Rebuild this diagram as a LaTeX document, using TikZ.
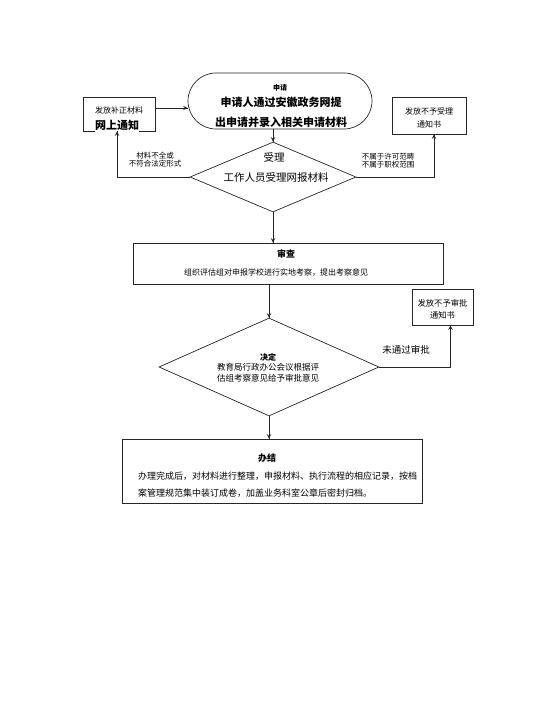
\documentclass[tikz,border=0pt]{standalone}
\usepackage{fontspec}
\setmainfont{Noto Sans CJK SC}
\usetikzlibrary{shapes.geometric,decorations.markings}

\begin{document}
\begin{tikzpicture}[x=1pt,y=-1pt]
\tikzset{
arr/.style={postaction=decorate,
decoration={markings,
mark=at position 1 with {\arrow[scale=1.2]{#1}}
}},
line/.style={draw=black!85,line width=0.7pt},
box/.style={line,inner sep=0pt},
dia/.style={line,diamond,inner sep=0pt},
txt/.style={inner sep=0pt,font=\fontsize{#1}{#1}\selectfont},
btxt/.style={inner sep=0pt,font=\fontsize{#1}{#1}\selectfont\bfseries}
}
\useasboundingbox (0,0) rectangle (548,727);

% apply
\node[box,rounded corners=28pt,minimum width=184pt,minimum height=56pt] (apply) at (280,101) {};
\node[btxt=7] (applyhead) at (280,88) {申请};
\node[btxt=11,align=center] (applytext) at (281,112) {申请人通过安徽政务网提\\[9pt]出申请并录入相关申请材料};

% side boxes
\node[box,minimum width=72pt,minimum height=34pt] (fixbox) at (119,114) {};
\node[txt=8] (fixtext) at (119,110) {发放补正材料};
\node[btxt=11,fill=white,inner ysep=3pt,anchor=west] (fixnote) at (95,125) {网上通知\hspace{14pt}};
\node[box,minimum width=74pt,minimum height=37pt] (rejbox) at (429,115.5) {};
\node[txt=8,align=center] (rejtext) at (429,118) {发放不予受理\\[5pt]通知书};

% accept
\node[dia,minimum width=166pt,minimum height=70pt] (accept) at (273,177) {};
\node[txt=10.5] (accepthead) at (274,157) {受理};
\node[txt=10.5] (accepttext) at (276,178) {工作人员受理网报材料};
\node[txt=7.5,align=center] (lacklabel) at (155,160) {材料不全或\\[0.5pt]不符合法定形式};
\node[txt=7.5,align=center] (outlabel) at (388,161) {不属于许可范畴\\[0.5pt]不属于职权范围};

% review
\node[box,minimum width=310pt,minimum height=41pt] (review) at (288,263.5) {};
\node[btxt=9] (reviewhead) at (286,254) {审查};
\node[txt=8] (reviewtext) at (276,273) {组织评估组对申报学校进行实地考察，提出考察意见};

% decide
\node[dia,minimum width=220pt,minimum height=98pt] (decide) at (269,367) {};
\node[btxt=8] (decidehead) at (268,357) {决定};
\node[txt=8.5,align=center] (decidetext) at (268,372.5) {教育局行政办公会议根据评\\[2.5pt]估组考察意见给予审批意见};
\node[box,minimum width=61pt,minimum height=36pt] (denybox) at (442.5,307) {};
\node[txt=8.3,align=center] (denytext) at (442.5,309) {发放不予审批\\[4pt]通知书};
\node[txt=9.5] (faillabel) at (406,350) {未通过审批};

% done
\node[box,minimum width=300pt,minimum height=64pt] (done) at (272,471) {};
\node[btxt=9] (donehead) at (267,458) {办结};
\node[txt=9,align=left,anchor=north west] (donetext) at (138,471.5) {办理完成后，对材料进行整理，申报材料、执行流程的相应记录，按档\\[8pt]案管理规范集中装订成卷，加盖业务科室公章后密封归档。};

\draw[line,arr=stealth] ([yshift=6pt]fixbox.east) -- ([yshift=6pt]fixbox.east -| apply.west);
\draw[line,arr=stealth] (apply.south -| accept.north) -- (accept.north);
\draw[line,arr=stealth] (accept.west) -| ([xshift=-2pt]fixbox.south);
\draw[line,arr=stealth] (accept.east) -| ([xshift=5pt]rejbox.south);
\draw[line,arr=stealth] (accept.south) -- (accept.south |- review.north);
\draw[line,arr=stealth] (decide.north |- review.south) -- (decide.north);
\draw[line,arr=stealth] (decide.east) -| ([xshift=8pt]denybox.south);
\draw[line,arr=stealth] (decide.south) -- (decide.south |- done.north);
\end{tikzpicture}
\end{document}
